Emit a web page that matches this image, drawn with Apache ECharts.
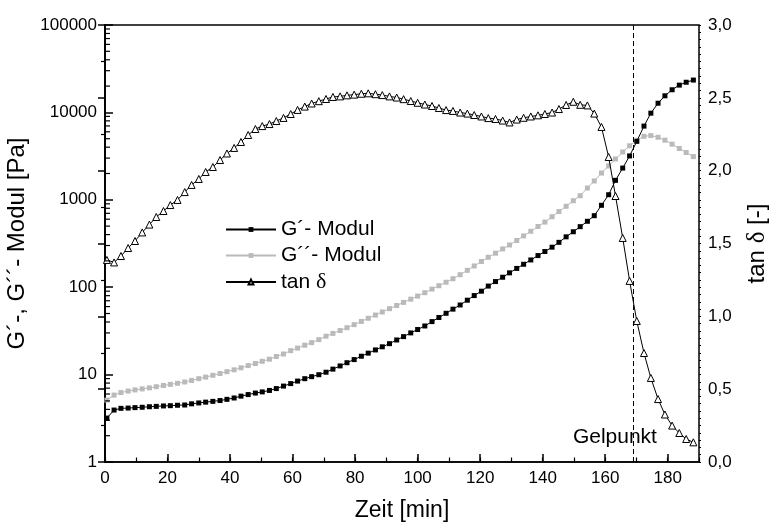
<!DOCTYPE html>
<html>
<head>
<meta charset="utf-8">
<script src="https://cdn.jsdelivr.net/npm/echarts@6/dist/echarts.min.js"></script>
<style>
  html, body { margin: 0; padding: 0; background: #fff; }
  #chart { width: 769px; height: 527px; }
</style>
</head>
<body>
<div id="chart"></div>
<script>
// Zeit [min]
const times = [0.6, 2.9, 5.1, 7.4, 9.6, 11.9, 14.2, 16.4, 18.7, 20.9, 23.2, 25.5, 27.7, 30.0, 32.2, 34.5, 36.8, 39.0, 41.3, 43.5,
  45.8, 48.1, 50.3, 52.6, 54.8, 57.1, 59.4, 61.6, 63.9, 66.1, 68.4, 70.7, 72.9, 75.2, 77.4, 79.7, 82.0, 84.2, 86.5, 88.7,
  91.0, 93.3, 95.5, 97.8, 100.0, 102.3, 104.6, 106.8, 109.1, 111.3, 113.6, 115.9, 118.1, 120.4, 122.6, 124.9, 127.2, 129.4, 131.7, 133.9,
  136.2, 138.5, 140.7, 143.0, 145.2, 147.5, 149.8, 152.0, 154.3, 156.5, 158.8, 161.1, 163.3, 165.6, 167.8, 170.1, 172.4, 174.6, 176.9, 179.1,
  181.4, 183.7, 185.9, 188.2];
// G´ [Pa]
const gStorage = [3.18, 3.93, 4.11, 4.14, 4.19, 4.23, 4.29, 4.33, 4.38, 4.41, 4.46, 4.49, 4.63, 4.74, 4.84, 4.94, 5.05, 5.21, 5.40, 5.67,
  5.91, 6.15, 6.34, 6.59, 6.92, 7.39, 7.89, 8.43, 8.98, 9.47, 9.97, 10.65, 11.55, 12.57, 13.68, 14.85, 16.23, 17.6, 19.15, 20.8,
  22.6, 24.9, 27.2, 30.0, 32.8, 36.0, 40.4, 45.0, 50.3, 56.1, 62.6, 71.0, 80.2, 90.0, 103, 116, 130, 146, 164, 183,
  205, 230, 256, 287, 326, 377, 431, 493, 568, 658, 865, 1143, 1670, 2307, 3175, 4664, 6970, 9800, 12740, 15490,
  18160, 20510, 22130, 23440];
// G´´ [Pa]
const gLoss = [5.11, 5.83, 6.23, 6.48, 6.68, 6.86, 7.05, 7.27, 7.50, 7.73, 7.95, 8.23, 8.58, 8.98, 9.36, 9.82, 10.3, 10.8, 11.35, 11.96,
  12.68, 13.4, 14.2, 15.0, 16.1, 17.2, 18.8, 20.1, 21.7, 23.2, 25.1, 27.5, 29.6, 31.9, 34.4, 37.3, 40.6, 44.1, 48.0, 52.1,
  56.8, 61.8, 67.0, 72.9, 79.1, 86.5, 95.1, 104, 114, 125, 139, 156, 175, 197, 220, 245, 274, 304, 342, 386,
  436, 495, 556, 640, 733, 843, 975, 1114, 1364, 1643, 2024, 2439, 2931, 3525, 4151, 4786, 5330, 5430, 5190, 4810,
  4330, 3865, 3480, 3120];
// tan δ [-]
const tanDelta = [1.387, 1.370, 1.414, 1.469, 1.517, 1.576, 1.630, 1.682, 1.723, 1.764, 1.799, 1.853, 1.902, 1.943, 1.991, 2.025, 2.073, 2.118, 2.156, 2.197,
  2.245, 2.286, 2.306, 2.320, 2.341, 2.362, 2.389, 2.417, 2.440, 2.461, 2.477, 2.492, 2.506, 2.510, 2.517, 2.522, 2.528, 2.531, 2.525, 2.519,
  2.510, 2.502, 2.491, 2.478, 2.466, 2.454, 2.444, 2.430, 2.416, 2.410, 2.399, 2.392, 2.382, 2.372, 2.361, 2.355, 2.344, 2.331, 2.351, 2.363,
  2.372, 2.380, 2.389, 2.399, 2.423, 2.451, 2.473, 2.452, 2.448, 2.392, 2.300, 2.094, 1.826, 1.538, 1.243, 0.968, 0.748, 0.577, 0.432, 0.326,
  0.250, 0.199, 0.158, 0.135];

const seriesNames = ["G´- Modul", "G´´- Modul", "tan δ"];
const gelTime = 169;
const gelLabel = "Gelpunkt";
const gelLabelAt = [163.1, 0.17];

// minor ticks of the log axis: 2..9 in every decade
const logMinorTicks = [];
for (let dec = 1; dec < 100000; dec *= 10) {
  for (let k = 2; k <= 9; k += 1) {
    logMinorTicks.push([0, k * dec]);
  }
}

const FONT = "Liberation Sans, Arial, sans-serif";
const SERIF = "Liberation Serif, DejaVu Serif, serif";
const pairs = (values) => times.map((t, idx) => [t, values[idx]]);

const chart = echarts.init(document.getElementById("chart"), null, { renderer: "canvas" });

chart.setOption({
  animation: false,
  backgroundColor: "#fff",
  textStyle: { fontFamily: FONT },
  grid: {
    left: 105, right: 70, top: 25, bottom: 65,
    outerBoundsMode: "none",
    containLabel: false,
    show: true, borderColor: "#000", borderWidth: 1.5, backgroundColor: "transparent",
  },
  legend: {
    orient: "vertical",
    left: 225,
    top: 219,
    padding: 0,
    itemWidth: 50,
    itemHeight: 6,
    itemGap: 5,
    data: seriesNames,
    textStyle: {
      fontSize: 21, color: "#000", fontFamily: FONT,
      rich: { d: { fontSize: 22, fontFamily: SERIF, color: "#000" } },
    },
    formatter: (name) => name.replace("δ", "{d|δ}"),
  },
  xAxis: [
    {
      type: "value",
      min: 0, max: 190, interval: 20,
      name: "Zeit [min]",
      nameLocation: "middle",
      nameGap: 37,
      nameTextStyle: { fontSize: 23, color: "#000" },
      axisLine: { onZero: false, lineStyle: { color: "#000", width: 1.5 } },
      axisTick: { inside: true, length: 8, lineStyle: { color: "#000", width: 1.5 } },
      axisLabel: { fontSize: 17, color: "#000", margin: 8, showMaxLabel: false },
      splitLine: { show: false },
    },
    {
      type: "value",
      min: 0, max: 190, interval: 10,
      position: "bottom",
      axisLine: { show: false, onZero: false },
      axisTick: { inside: true, length: 4.5, lineStyle: { color: "#000", width: 1.2 } },
      axisLabel: { show: false },
      splitLine: { show: false },
    },
  ],
  yAxis: [
    {
      type: "log",
      min: 1, max: 100000,
      logBase: 10,
      name: "G´-, G´´- Modul [Pa]",
      nameLocation: "middle",
      nameGap: 64,
      nameTextStyle: { fontSize: 24, color: "#000" },
      axisLine: { lineStyle: { color: "#000", width: 1.5 } },
      axisTick: { inside: true, length: 8, lineStyle: { color: "#000", width: 1.5 } },
      axisLabel: { fontSize: 17, color: "#000", margin: 8, formatter: (v) => String(Math.round(v)) },
      splitLine: { show: false },
    },
    {
      type: "value",
      min: 0, max: 3, interval: 0.5,
      position: "right",
      name: "tan {d|δ} [-]",
      nameLocation: "middle",
      nameGap: 46,
      nameTextStyle: {
        fontSize: 24, color: "#000",
        rich: { d: { fontSize: 25, fontFamily: SERIF, color: "#000" } },
      },
      axisLine: { lineStyle: { color: "#000", width: 1.5 } },
      axisTick: { inside: true, length: 7, lineStyle: { color: "#000", width: 1.5 } },
      minorTick: { show: true, splitNumber: 2, length: 4, lineStyle: { color: "#000", width: 1.2 } },
      axisLabel: { fontSize: 17, color: "#000", margin: 9, formatter: (v) => v.toFixed(1).replace(".", ",") },
      splitLine: { show: false },
      minorSplitLine: { show: false },
    },
    {
      // tiny outer ticks every 0,05 on the right axis
      type: "value",
      min: 0, max: 3, interval: 0.05,
      position: "right",
      axisLine: { show: false },
      axisTick: { inside: false, length: 2, lineStyle: { color: "#000", width: 1 } },
      axisLabel: { show: false },
      splitLine: { show: false },
    },
  ],
  series: [
    {
      type: "custom",
      silent: true,
      xAxisIndex: 0,
      yAxisIndex: 0,
      data: logMinorTicks,
      renderItem: (params, api) => {
        const p = api.coord([api.value(0), api.value(1)]);
        return {
          type: "line",
          shape: { x1: p[0], y1: p[1], x2: p[0] + 5, y2: p[1] },
          style: { stroke: "#000", lineWidth: 1.2 },
        };
      },
      z: 5,
    },
    {
      name: seriesNames[0],
      type: "line",
      xAxisIndex: 0,
      yAxisIndex: 0,
      data: pairs(gStorage),
      symbol: "rect",
      symbolSize: 5,
      itemStyle: { color: "#000" },
      lineStyle: { color: "#000", width: 1 },
      markLine: {
        silent: true,
        symbol: "none",
        label: { show: false },
        lineStyle: { color: "#000", width: 1, type: [5, 3] },
        data: [{ xAxis: gelTime }],
      },
      z: 3,
    },
    {
      name: seriesNames[1],
      type: "line",
      xAxisIndex: 0,
      yAxisIndex: 0,
      data: pairs(gLoss),
      symbol: "rect",
      symbolSize: 5,
      itemStyle: { color: "#bababa" },
      lineStyle: { color: "#bababa", width: 1 },
      z: 2,
    },
    {
      name: seriesNames[2],
      type: "line",
      xAxisIndex: 0,
      yAxisIndex: 1,
      data: pairs(tanDelta),
      symbol: "triangle",
      symbolSize: 7,
      itemStyle: { color: "#fff", borderColor: "#000", borderWidth: 1 },
      lineStyle: { color: "#000", width: 1 },
      markPoint: {
        silent: true,
        symbol: "circle",
        symbolSize: 0,
        label: { show: true, formatter: gelLabel, fontSize: 21, color: "#000", fontFamily: FONT },
        data: [{ coord: gelLabelAt }],
      },
      z: 4,
    },
  ],
});
</script>
</body>
</html>
